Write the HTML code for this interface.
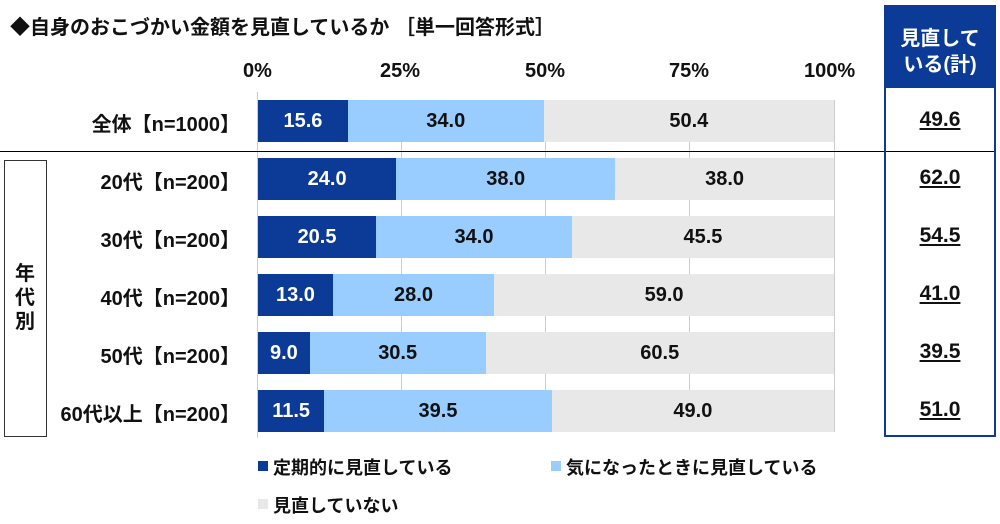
<!DOCTYPE html>
<html><head><meta charset="utf-8"><style>
*{margin:0;padding:0;box-sizing:border-box}
body{width:1000px;height:524px;background:#fff;position:relative;overflow:hidden;font-family:"Liberation Sans","Noto Sans CJK JP",sans-serif;font-weight:bold;color:#111}
.a{position:absolute;white-space:nowrap}
.bar{position:absolute;height:42px;display:flex}
.bar div{height:100%;display:flex;align-items:center;justify-content:center;font-size:20px}
.d{background:#0b3a97;color:#fff}.l{background:#99ccff;color:#111}.g{background:#e8e8e8;color:#111}
.lab{position:absolute;right:760px;font-size:20px;width:250px;text-align:right}
.tot{position:absolute;left:884px;width:112px;text-align:center;font-size:21px;text-decoration:underline}
.tick{position:absolute;font-size:20px;top:60px}
.grid{position:absolute;top:100px;height:332px;width:1px;background:#ccc}
</style></head><body>
<div class="a" style="left:10px;top:11px;font-size:20px">◆自身のおこづかい金額を見直しているか ［単一回答形式］</div>
<div class="tick" style="left:243px">0%</div>
<div class="tick" style="left:380px">25%</div>
<div class="tick" style="left:525px">50%</div>
<div class="tick" style="left:669px">75%</div>
<div class="tick" style="left:804px">100%</div>
<div class="grid" style="left:257px;top:92px;height:346px"></div>
<div class="grid" style="left:401px"></div><div class="grid" style="left:545px"></div><div class="grid" style="left:689px"></div><div class="grid" style="left:834px"></div>
<div class="a" style="left:0;top:151px;width:995px;height:1px;background:#000"></div>
<div class="a" style="left:4px;top:160px;width:43px;height:277px;border:1px solid #333"></div>
<div class="a" style="left:15px;top:262px;font-size:20px;line-height:24px;white-space:normal;width:22px">年代別</div>
<div class="a" style="left:884px;top:5px;width:112px;height:432px;border:2px solid #0b3a97"></div>
<div class="a" style="left:884px;top:5px;width:112px;height:83px;background:#0b3a97;color:#fff;font-size:20px;text-align:center;padding-top:21px;line-height:26px">見直して<br>いる(計)</div>
<div class="bar" style="left:258px;top:100px;width:576px"><div class="d" style="width:15.6%">15.6</div><div class="l" style="width:34%">34.0</div><div class="g" style="width:50.4%">50.4</div></div>
<div class="bar" style="left:258px;top:158px;width:576px"><div class="d" style="width:24%">24.0</div><div class="l" style="width:38%">38.0</div><div class="g" style="width:38%">38.0</div></div>
<div class="bar" style="left:258px;top:216px;width:576px"><div class="d" style="width:20.5%">20.5</div><div class="l" style="width:34%">34.0</div><div class="g" style="width:45.5%">45.5</div></div>
<div class="bar" style="left:258px;top:274px;width:576px"><div class="d" style="width:13%">13.0</div><div class="l" style="width:28%">28.0</div><div class="g" style="width:59%">59.0</div></div>
<div class="bar" style="left:258px;top:332px;width:576px"><div class="d" style="width:9%">9.0</div><div class="l" style="width:30.5%">30.5</div><div class="g" style="width:60.5%">60.5</div></div>
<div class="bar" style="left:258px;top:390px;width:576px"><div class="d" style="width:11.5%">11.5</div><div class="l" style="width:39.5%">39.5</div><div class="g" style="width:49%">49.0</div></div>
<div class="lab" style="top:108px">全体【n=1000】</div>
<div class="lab" style="top:166px">20代【n=200】</div>
<div class="lab" style="top:224px">30代【n=200】</div>
<div class="lab" style="top:282px">40代【n=200】</div>
<div class="lab" style="top:340px">50代【n=200】</div>
<div class="lab" style="top:398px">60代以上【n=200】</div>
<div class="tot" style="top:108px">49.6</div>
<div class="tot" style="top:166px">62.0</div>
<div class="tot" style="top:224px">54.5</div>
<div class="tot" style="top:282px">41.0</div>
<div class="tot" style="top:340px">39.5</div>
<div class="tot" style="top:398px">51.0</div>
<div class="a" style="left:258px;top:461px;width:10px;height:10px;background:#0b3a97"></div>
<div class="a" style="left:273px;top:454px;font-size:18px">定期的に見直している</div>
<div class="a" style="left:551px;top:461px;width:10px;height:10px;background:#99ccff"></div>
<div class="a" style="left:566px;top:454px;font-size:18px">気になったときに見直している</div>
<div class="a" style="left:258px;top:499px;width:10px;height:10px;background:#e8e8e8"></div>
<div class="a" style="left:273px;top:492px;font-size:18px">見直していない</div>
</body></html>
